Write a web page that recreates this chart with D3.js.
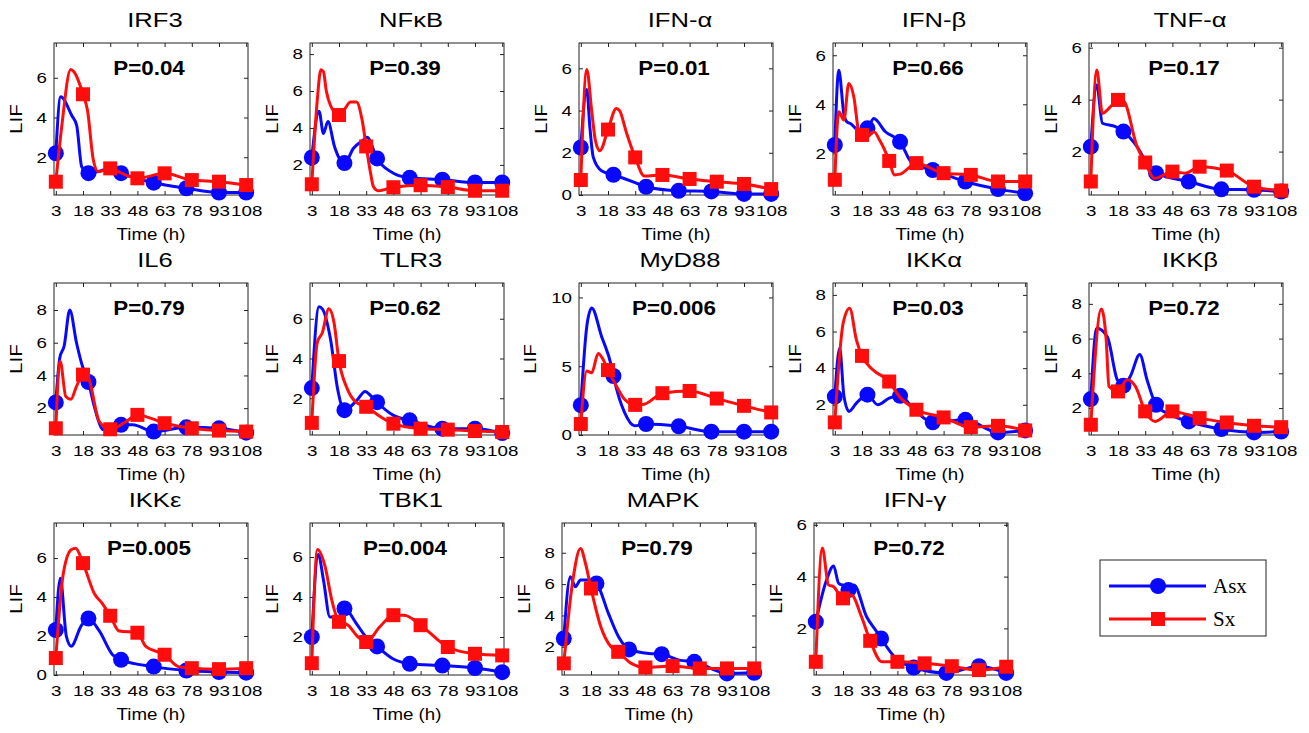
<!DOCTYPE html>
<html>
<head>
<meta charset="utf-8">
<title>LIF time courses, Asx vs Sx</title>
<style>
  body { margin: 0; background: #fff; }
  text { font-family: Arial, "Liberation Sans", Helvetica, sans-serif; fill: #000; }
  .legend text { font-family: "Liberation Serif", "Times New Roman", serif; }
</style>
</head>
<body>
<svg id="chart"></svg>
<script src="https://cdnjs.cloudflare.com/ajax/libs/d3/7.8.5/d3.min.js"></script>
<script>
var genes = ['IRF3', 'NFκB', 'IFN-α', 'IFN-β', 'TNF-α', 'IL6', 'TLR3', 'MyD88', 'IKKα', 'IKKβ', 'IKKε', 'TBK1', 'MAPK', 'IFN-γ'];
var pValues = ['0.04', '0.39', '0.01', '0.66', '0.17', '0.79', '0.62', '0.006', '0.03', '0.72', '0.005', '0.004', '0.79', '0.72'];
var yLimits = [[0.1, 7.75], [0.37, 8.6], [0, 7.2], [0.3, 6.5], [0.33, 6.18], [0.36, 9.65], [0.15, 7.8],
  [0, 11.05], [0.35, 8.65], [0.45, 9.2], [0, 7.8], [0.1, 7.7], [0.2, 9.9], [0.2, 6.07]];
var yTickStep = [2, 2, 2, 2, 2, 2, 2, 5, 2, 2, 2, 2, 2, 2];
var timeTicks = [3, 18, 33, 48, 63, 78, 93, 108];
var asxMarkerTimes = [3, 21, 39, 57, 75, 93, 108];
var sxMarkerTimes = [3, 18, 33, 48, 63, 78, 93, 108];

// [time (h), LIF] for each curve
var irf3Asx = [[3,2.2],[5.7,5.05],[11.8,4.1],[14.5,3.6],[17.3,1.52],[21,1.2],[27,1.3],[33,1.45],[39,1.2],[47,0.95],[57,0.72],[75,0.44],[93,0.22],[108,0.22]];
var irf3Sx = [[3,0.77],[6.2,3.5],[11.2,6.42],[13,6.3],[18,5.17],[20.4,4.4],[23.7,1.86],[26.4,1.27],[33,1.44],[38,1.25],[48,0.94],[63,1.19],[78,0.85],[93,0.77],[108,0.6]];
var nfkbAsx = [[3,2.4],[7,4.9],[9.4,3.7],[11.9,4.35],[15.5,3.0],[18.5,2.3],[21,2.1],[26,2.9],[31.6,3.36],[33.4,3.5],[39,2.35],[48,1.55],[57,1.3],[75,1.2],[93,1.05],[108,1.05]];
var nfkbSx = [[3,0.95],[6,5.5],[8,7.15],[9.4,7.05],[11,6.0],[13.4,5.2],[18,4.7],[21,5.0],[24.3,5.4],[27.6,5.4],[30.7,4.45],[33,3.0],[35.5,1.5],[37,0.82],[39.8,0.6],[48,0.79],[63,0.9],[78,0.8],[93,0.6],[108,0.6]];
var ifnaAsx = [[3,2.25],[6.3,5.0],[8,3.2],[9.9,1.78],[14.4,1.15],[21,0.96],[32.6,0.6],[39,0.39],[57,0.2],[75,0.17],[93,0.05],[108,0.05]];
var ifnaSx = [[3,0.71],[6.3,5.95],[9,3.98],[11,2.6],[13.5,2.1],[18,3.1],[22.6,4.1],[24.4,4.0],[28,3.0],[33,1.78],[38,0.9],[48,0.95],[63,0.76],[78,0.63],[93,0.52],[108,0.28]];
var ifnbAsx = [[3,2.34],[5.2,5.39],[8,3.6],[9.5,3.3],[12,3.2],[16,2.95],[21,3.02],[24.5,3.42],[30.9,2.88],[39,2.47],[45.6,1.6],[57,1.32],[75,0.85],[93,0.54],[108,0.37]];
var ifnbSx = [[3,0.92],[5.2,3.7],[8,3.36],[10.7,4.85],[13.5,4.3],[16.2,2.9],[18,2.75],[19.9,2.6],[24.5,2.88],[28,2.5],[33,1.69],[35.8,1.12],[39,1.15],[48,1.6],[63,1.19],[78,1.12],[93,0.85],[108,0.85]];
var tnfaAsx = [[3,2.19],[6.3,4.56],[9.4,3.09],[16.6,2.96],[21,2.77],[28.5,2.19],[34,1.55],[39,1.17],[57,0.85],[75,0.55],[93,0.53],[108,0.46]];
var tnfaSx = [[3,0.85],[6.3,5.14],[9.4,3.47],[13.9,3.73],[18,3.99],[21,3.95],[28.5,2.19],[33,1.58],[38,0.97],[48,1.23],[55,1.17],[63,1.42],[78,1.27],[93,0.65],[108,0.5]];
var il6Asx = [[3,2.35],[5.2,5.07],[7.6,5.8],[10.7,8.0],[14.4,6.0],[17.7,4.56],[21,3.6],[24,2.2],[27,1.08],[28.8,0.7],[34.4,0.67],[39,0.98],[45.4,0.98],[57,0.57],[75,0.83],[93,0.77],[108,0.5]];
var il6Sx = [[3,0.77],[5.4,4.87],[8.5,2.72],[11.3,2.55],[14.4,3.33],[18,4.05],[20.5,3.95],[27,1.18],[33,0.71],[41.7,1.18],[48,1.59],[63,1.08],[78,0.77],[93,0.63],[108,0.57]];
var tlr3Asx = [[3,2.51],[7,6.6],[8.8,6.5],[13.3,4.98],[17.3,2.43],[21,1.4],[27.9,1.9],[32.4,2.34],[36,2.08],[39,1.8],[47.8,1.15],[57,0.89],[75,0.47],[93,0.47],[108,0.25]];
var tlr3Sx = [[3,0.76],[6,4.8],[8.8,5.3],[12.4,6.5],[15.2,5.83],[18,3.87],[22.4,2.51],[27,1.83],[33,1.57],[42.4,0.98],[48,0.72],[63,0.47],[78,0.42],[93,0.35],[108,0.3]];
var myd88Asx = [[3,2.17],[6.3,7.9],[9,9.23],[14.4,7.18],[19.9,5.0],[21,4.29],[27.1,1.64],[32.6,0.67],[39,0.8],[57,0.63],[75,0.24],[93,0.24],[108,0.24]];
var myd88Sx = [[3,0.8],[6.3,4.65],[9,4.53],[12.6,5.93],[15.3,5.49],[18,4.72],[22.6,3.57],[27.1,2.6],[33,2.19],[38,2.24],[48,3.04],[63,3.2],[78,2.65],[93,2.12],[108,1.64]];
var ikkaAsx = [[3,2.45],[5.7,5.09],[8,2.5],[10.8,1.64],[14.9,2.09],[21,2.55],[26.7,2.0],[33,2.36],[39,2.49],[46.8,1.73],[57,1.04],[75,1.18],[93,0.49],[108,0.6]];
var ikkaSx = [[3,1.04],[7.6,6.45],[11.2,7.27],[14.9,5.55],[18,4.67],[24,3.91],[33,3.27],[38.6,2.45],[48,1.73],[63,1.31],[78,0.78],[93,0.85],[108,0.6]];
var ikkbAsx = [[3,2.52],[6.3,6.6],[12.1,6.1],[17.6,3.63],[21,3.29],[24.8,3.83],[30,5.08],[34,3.63],[39,2.19],[46.7,1.62],[57,1.23],[75,0.79],[93,0.6],[108,0.65]];
var ikkbSx = [[3,1.04],[8.8,7.71],[11.5,5.9],[13,3.25],[18,2.96],[23,3.63],[27.6,3.25],[33,1.81],[38.5,1.23],[48,1.81],[63,1.42],[78,1.17],[93,0.98],[108,0.9]];
var ikkeAsx = [[3,2.31],[5.5,4.96],[8.8,2.0],[11.5,1.48],[17,2.52],[21,2.9],[27,2.26],[34.3,1.04],[39,0.78],[57,0.43],[75,0.23],[93,0.15],[108,0.12]];
var ikkeSx = [[3,0.87],[7,5.13],[11.5,6.43],[13.9,6.5],[18,5.74],[24.3,4.17],[28.8,3.65],[33,3.04],[37.9,2.26],[48,2.17],[52.5,1.48],[63,1.04],[70.6,0.43],[78,0.35],[93,0.3],[108,0.35]];
var tbk1Asx = [[3,2.0],[6.6,6.12],[9.4,4.86],[13,3.0],[17.6,3.0],[21,3.43],[27.6,2.67],[32.2,2.08],[39,1.53],[47.7,0.91],[57,0.66],[75,0.57],[93,0.45],[108,0.24]];
var tbk1Sx = [[3,0.69],[6.1,6.37],[10.3,5.53],[14,3.85],[18,2.76],[23,2.59],[28.5,2.0],[33,1.75],[40.4,2.5],[48,3.09],[54,3.09],[63,2.59],[78,1.5],[93,1.16],[108,1.08]];
var mapkAsx = [[3,2.53],[6.6,6.47],[9.4,5.83],[12.2,6.26],[16.4,6.26],[21,6.04],[27.6,4.13],[33.2,2.64],[39,1.83],[49.9,1.57],[57,1.53],[66.7,1.15],[75,1.04],[93,0.3],[108,0.34]];
var mapkSx = [[3,0.94],[8,6.26],[12.2,8.28],[15,7.3],[18,5.72],[23.4,3.28],[29,2.0],[33,1.68],[40.2,0.94],[48,0.68],[63,0.77],[78,0.62],[93,0.62],[108,0.62]];
var ifngAsx = [[3,2.26],[8.6,3.8],[12.8,4.41],[15.6,3.74],[19.8,3.61],[21,3.48],[24,3.68],[31,2.45],[36.6,1.87],[39,1.61],[46.4,0.9],[57,0.49],[75,0.28],[93,0.54],[108,0.28]];
var ifngSx = [[3,0.71],[6.6,5.1],[10,3.68],[12.8,3.61],[18,3.16],[22.6,3.29],[28.2,2.45],[33,1.52],[39.4,0.71],[48,0.71],[63,0.65],[78,0.54],[93,0.39],[108,0.52]];

var asxCurves = [irf3Asx, nfkbAsx, ifnaAsx, ifnbAsx, tnfaAsx, il6Asx, tlr3Asx, myd88Asx, ikkaAsx, ikkbAsx, ikkeAsx, tbk1Asx, mapkAsx, ifngAsx];
var sxCurves = [irf3Sx, nfkbSx, ifnaSx, ifnbSx, tnfaSx, il6Sx, tlr3Sx, myd88Sx, ikkaSx, ikkbSx, ikkeSx, tbk1Sx, mapkSx, ifngSx];

var width = 1309, height = 733;
var plotW = 194, plotH = 152;
var colLeft = [54, 310, 579, 833, 1089];
var rowTop = [43, 283, 523];
var blue = '#0808ff', red = '#ff0c0c';
// the figure's lettering is wide; stretch glyphs along the text direction
var tickStretch = 1.25, titleStretch = 1.28, pStretch = 1.12, lifStretch = 1.3, timeStretch = 1.1;

var svg = d3.select('#chart').attr('width', width).attr('height', height);

var x = d3.scaleLinear().domain([2, 109]).range([0, plotW]);

function panelLeft(i) {
  var r = Math.floor(i / 5), c = i % 5;
  if (r === 2 && c >= 2) return [562, 814][c - 2];
  return colLeft[c];
}

function label(g, tx, ty, sx, size, str) {
  return g.append('text')
    .attr('transform', 'translate(' + tx + ',' + ty + ') scale(' + sx + ',1)')
    .attr('text-anchor', 'middle')
    .style('font-size', size + 'px')
    .text(str);
}

function drawSeries(g, y, pts, markerTimes, color, shape) {
  var line = d3.line()
    .x(function(d) { return x(d[0]); })
    .y(function(d) { return y(d[1]); })
    .curve(d3.curveMonotoneX);
  g.append('path')
    .attr('d', line(pts))
    .attr('fill', 'none')
    .attr('stroke', color)
    .attr('stroke-width', 3)
    .attr('stroke-linejoin', 'round');
  var marked = pts.filter(function(d) { return markerTimes.indexOf(d[0]) >= 0; });
  if (shape === 'circle') {
    g.selectAll('circle.m').data(marked).enter().append('circle')
      .attr('class', 'm')
      .attr('cx', function(d) { return x(d[0]); })
      .attr('cy', function(d) { return y(d[1]); })
      .attr('r', 8)
      .attr('fill', color);
  } else {
    g.selectAll('rect.m').data(marked).enter().append('rect')
      .attr('class', 'm')
      .attr('x', function(d) { return x(d[0]) - 7; })
      .attr('y', function(d) { return y(d[1]) - 7; })
      .attr('width', 14)
      .attr('height', 14)
      .attr('fill', color);
  }
}

genes.forEach(function(name, i) {
  var left = panelLeft(i), top = rowTop[Math.floor(i / 5)];
  var g = svg.append('g').attr('transform', 'translate(' + left + ',' + top + ')');
  var y = d3.scaleLinear().domain(yLimits[i]).range([plotH, 0]);
  var step = yTickStep[i];
  var yTicks = d3.range(Math.ceil(yLimits[i][0] / step - 1e-9) * step, yLimits[i][1] + 1e-9, step);

  // axes box with inward ticks on all four sides
  g.append('rect').attr('width', plotW).attr('height', plotH)
    .attr('fill', 'none').attr('stroke', '#222').attr('stroke-width', 1);

  g.append('g').attr('transform', 'translate(0,' + plotH + ')')
    .call(d3.axisBottom(x).tickValues(timeTicks).tickSizeInner(-4).tickSizeOuter(0).tickPadding(10));
  g.append('g').call(d3.axisTop(x).tickValues(timeTicks).tickSizeInner(-4).tickSizeOuter(0).tickFormat(''));
  var yAxis = g.append('g')
    .call(d3.axisLeft(y).tickValues(yTicks).tickSizeInner(-4).tickSizeOuter(0).tickPadding(5.6).tickFormat(d3.format('d')));
  g.append('g').attr('transform', 'translate(' + plotW + ',0)')
    .call(d3.axisRight(y).tickValues(yTicks).tickSizeInner(-4).tickSizeOuter(0).tickFormat(''));
  g.selectAll('.domain').remove();
  g.selectAll('.tick line').attr('stroke', '#222');
  g.selectAll('.tick text')
    .style('font-size', '15px')
    .attr('fill', '#000')
    .attr('transform', 'scale(' + tickStretch + ',1)');

  // y label sits just left of the widest tick label
  var minLeft = 0;
  yAxis.selectAll('text').each(function() {
    var b = this.getBBox();
    minLeft = Math.min(minLeft, b.x * tickStretch);
  });
  g.append('text')
    .attr('transform', 'translate(' + (minLeft - 15) + ',' + (plotH / 2) + ') rotate(-90) scale(' + lifStretch + ',1)')
    .attr('text-anchor', 'middle')
    .style('font-size', '16px')
    .text('LIF');

  label(g, plotW / 2, plotH + 45, timeStretch, 17, 'Time (h)');
  label(g, plotW / 2 + 4, -16, titleStretch, 20, name);
  label(g, plotW / 2 - 2, 32, pStretch, 20, 'P=' + pValues[i]).style('font-weight', 'bold');

  drawSeries(g, y, asxCurves[i], asxMarkerTimes, blue, 'circle');
  drawSeries(g, y, sxCurves[i], sxMarkerTimes, red, 'square');
});

// legend
var legend = svg.append('g').attr('class', 'legend').attr('transform', 'translate(1100,560)');
legend.append('rect').attr('width', 166).attr('height', 76)
  .attr('fill', '#fff').attr('stroke', '#222').attr('stroke-width', 1);
var entries = [
  { label: 'Asx', color: blue, shape: 'circle', y: 26 },
  { label: 'Sx', color: red, shape: 'square', y: 59 }
];
entries.forEach(function(e) {
  legend.append('line').attr('x1', 9).attr('x2', 106).attr('y1', e.y).attr('y2', e.y)
    .attr('stroke', e.color).attr('stroke-width', 3);
  if (e.shape === 'circle') {
    legend.append('circle').attr('cx', 58).attr('cy', e.y).attr('r', 8).attr('fill', e.color);
  } else {
    legend.append('rect').attr('x', 51).attr('y', e.y - 7).attr('width', 14).attr('height', 14).attr('fill', e.color);
  }
  legend.append('text').attr('x', 113).attr('y', e.y + 7)
    .style('font-size', '21px').text(e.label);
});
</script>
</body>
</html>
